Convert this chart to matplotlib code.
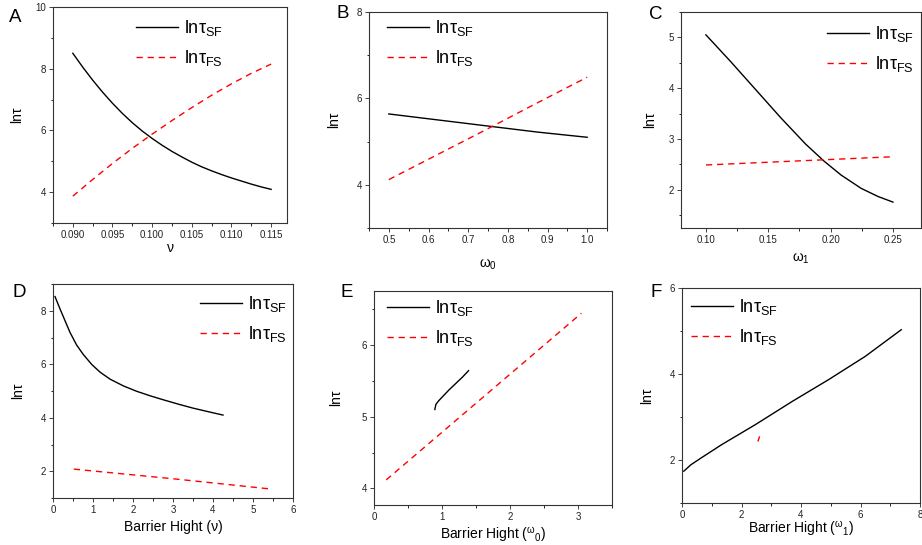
import matplotlib
matplotlib.use('Agg')
import matplotlib.pyplot as plt
from matplotlib.ticker import MultipleLocator, FormatStrFormatter

plt.rcParams['font.family'] = ['Liberation Sans', 'DejaVu Sans']
plt.rcParams['mathtext.default'] = 'regular'

# panel A: ln tau vs nu
a_x = [0.090, 0.09125, 0.0925, 0.09375, 0.095, 0.09625, 0.0975, 0.09875, 0.100,
       0.10125, 0.1025, 0.10375, 0.105, 0.10625, 0.1075, 0.10875, 0.110,
       0.11125, 0.1125, 0.11375, 0.115]
a_sf = [8.50, 8.05, 7.63, 7.24, 6.88, 6.55, 6.25, 5.98, 5.74, 5.52, 5.32, 5.14,
        4.97, 4.82, 4.69, 4.57, 4.46, 4.36, 4.26, 4.17, 4.09]
a_fs_x = [0.090, 0.0925, 0.095, 0.0975, 0.100, 0.1025, 0.105, 0.1075, 0.110, 0.1125, 0.115]
a_fs = [3.87, 4.41, 4.93, 5.42, 5.88, 6.32, 6.74, 7.14, 7.51, 7.85, 8.15]

# panel B: ln tau vs omega_0
b_x = [0.5, 0.625, 0.75, 0.875, 1.0]
b_sf = [5.64, 5.50, 5.36, 5.22, 5.10]
b_fs = [4.12, 4.71, 5.30, 5.90, 6.49]

# panel C: ln tau vs omega_1
c_x = [0.100, 0.120, 0.140, 0.160, 0.180, 0.195, 0.2085, 0.2245, 0.238, 0.250]
c_sf = [5.05, 4.52, 3.97, 3.42, 2.90, 2.56, 2.29, 2.03, 1.87, 1.76]
c_fs_x = [0.10, 0.248]
c_fs = [2.49, 2.65]

# panel D: ln tau vs barrier height (nu)
d_sf_x = [0.05, 0.175, 0.30, 0.425, 0.59, 0.76, 0.97, 1.18, 1.43, 1.76, 2.09,
          2.43, 2.76, 3.13, 3.5, 3.9, 4.25]
d_sf = [8.53, 8.07, 7.63, 7.19, 6.72, 6.36, 5.99, 5.70, 5.44, 5.19, 4.99,
        4.82, 4.67, 4.51, 4.36, 4.22, 4.10]
d_fs_x = [0.52, 3.0, 5.42]
d_fs = [2.08, 1.72, 1.34]

# panel E: ln tau vs barrier height (omega_0)
e_sf_x = [0.895, 0.91, 0.95, 1.02, 1.10, 1.20, 1.30, 1.39]
e_sf = [5.10, 5.17, 5.22, 5.29, 5.37, 5.46, 5.55, 5.64]
e_fs_x = [0.18, 3.05]
e_fs = [4.12, 6.44]

# panel F: ln tau vs barrier height (omega_1)
f_sf_x = [0.06, 0.30, 0.67, 1.34, 2.46, 3.70, 4.93, 6.16, 7.37]
f_sf = [1.74, 1.89, 2.06, 2.36, 2.82, 3.36, 3.87, 4.41, 5.03]
f_fs_x = [2.55, 2.61]
f_fs = [2.43, 2.55]

W, H = 922, 545
fig = plt.figure(figsize=(W / 100, H / 100), dpi=100)


def make_axes(l, t, r, b):
    return fig.add_axes([l / W, 1 - b / H, (r - l) / W, (b - t) / H])


def style(ax, xlim, ylim, xmaj, xmin, ymaj, ymin, xfmt=None):
    ax.set_xlim(*xlim)
    ax.set_ylim(*ylim)
    ax.xaxis.set_major_locator(MultipleLocator(xmaj))
    ax.xaxis.set_minor_locator(MultipleLocator(xmin))
    ax.yaxis.set_major_locator(MultipleLocator(ymaj))
    ax.yaxis.set_minor_locator(MultipleLocator(ymin))
    if xfmt:
        ax.xaxis.set_major_formatter(FormatStrFormatter(xfmt))
    ax.tick_params(which='major', direction='out', length=3, width=0.6,
                   labelsize=7, pad=2, colors='#222222')
    ax.tick_params(which='minor', direction='out', length=1.8, width=0.6)
    for s in ax.spines.values():
        s.set_linewidth(0.8)
        s.set_color('#333333')


def lines(ax, xs, ys, xf, yf, lx, ly):
    ax.plot(xs, ys, color='black', lw=1.0, label='lnτ$_{SF}$')
    ax.plot(xf, yf, color='red', lw=1.0, dashes=(4.5, 3.5), label='lnτ$_{FS}$')
    ax.legend(loc='upper left', bbox_to_anchor=(lx / W, 1 - ly / H),
              bbox_transform=fig.transFigure, frameon=False, borderpad=0,
              borderaxespad=0, fontsize=13, handlelength=2.3,
              handletextpad=0.35, labelspacing=0.55)


axA = make_axes(53, 7, 287, 223)
lines(axA, a_x, a_sf, a_fs_x, a_fs, 136, 18)
style(axA, (0.0875, 0.117), (3, 10), 0.005, 0.0025, 2, 1, '%.3f')
axA.set_xlabel('ν', fontsize=10, labelpad=1)
axA.set_ylabel('lnτ', fontsize=10, labelpad=8)

axB = make_axes(369, 12, 607, 228)
lines(axB, b_x, b_sf, b_x, b_fs, 387, 18)
style(axB, (0.45, 1.05), (3, 8), 0.1, 0.05, 2, 1, '%.1f')
axB.set_xlabel('ω$_0$', fontsize=10, labelpad=9)
axB.set_ylabel('lnτ', fontsize=10, labelpad=11)

axC = make_axes(681, 12, 921, 228)
lines(axC, c_x, c_sf, c_fs_x, c_fs, 827, 24)
style(axC, (0.08, 0.2725), (1.25, 5.5), 0.05, 0.025, 1, 0.5, '%.2f')
axC.set_xlabel('ω$_1$', fontsize=10, labelpad=5)
axC.set_ylabel('lnτ', fontsize=10, labelpad=8)

axD = make_axes(53, 284, 293, 498)
lines(axD, d_sf_x, d_sf, d_fs_x, d_fs, 200, 294)
style(axD, (0, 6), (1, 9), 1, 0.5, 2, 1)
axD.set_xlabel('Barrier Hight (ν)', fontsize=10, labelpad=4)
axD.set_ylabel('lnτ', fontsize=10, labelpad=11)

axE = make_axes(374, 291, 612, 505)
lines(axE, e_sf_x, e_sf, e_fs_x, e_fs, 387, 298)
style(axE, (0, 3.5), (3.77, 6.75), 1, 0.5, 1, 0.5)
axE.set_xlabel('Barrier Hight ($^{ω}$$_{0}$)', fontsize=10, labelpad=3)
axE.set_ylabel('lnτ', fontsize=10, labelpad=13)

axF = make_axes(682, 288, 920, 503)
lines(axF, f_sf_x, f_sf, f_fs_x, f_fs, 691, 297)
style(axF, (0, 8), (1, 6), 2, 1, 2, 1)
axF.set_xlabel('Barrier Hight ($^{ω}$$_{1}$)', fontsize=10, labelpad=0)
axF.set_ylabel('lnτ', fontsize=10, labelpad=11)

for letter, px, py in [('A', 9, 22), ('B', 336, 18), ('C', 649, 19),
                       ('D', 12, 297), ('E', 341, 297), ('F', 650, 297)]:
    fig.text(px / W, 1 - py / H, letter, fontsize=13.5, ha='left', va='baseline')

fig.savefig('out.png', dpi=100)
